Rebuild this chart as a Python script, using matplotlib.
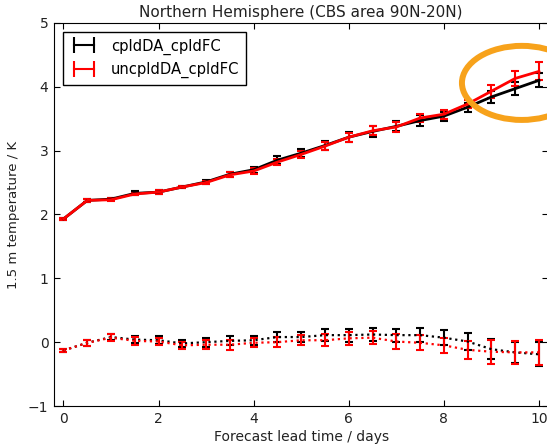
import numpy as np
import matplotlib
matplotlib.use("Agg")
import matplotlib.pyplot as plt
from matplotlib.lines import Line2D
from matplotlib.patches import Ellipse

# forecast lead times (days)
lead = [0.0, 0.5, 1.0, 1.5, 2.0, 2.5, 3.0, 3.5, 4.0, 4.5, 5.0,
        5.5, 6.0, 6.5, 7.0, 7.5, 8.0, 8.5, 9.0, 9.5, 10.0]

# RMS error, 1.5 m temperature (K)
rms_cpld = [1.93, 2.22, 2.24, 2.33, 2.35, 2.43, 2.51, 2.63, 2.70, 2.85, 2.96,
            3.08, 3.21, 3.30, 3.38, 3.47, 3.54, 3.68, 3.84, 3.97, 4.10]
rms_cpld_err = [0.02, 0.02, 0.02, 0.03, 0.03, 0.02, 0.03, 0.04, 0.05, 0.06, 0.06,
                0.07, 0.08, 0.08, 0.08, 0.08, 0.07, 0.07, 0.09, 0.10, 0.11]
rms_uncpld = [1.93, 2.22, 2.23, 2.32, 2.35, 2.43, 2.50, 2.62, 2.68, 2.82, 2.94,
              3.07, 3.21, 3.31, 3.37, 3.51, 3.57, 3.73, 3.93, 4.13, 4.24]
rms_uncpld_err = [0.02, 0.02, 0.02, 0.02, 0.03, 0.02, 0.03, 0.04, 0.04, 0.05, 0.05,
                  0.06, 0.07, 0.07, 0.08, 0.07, 0.07, 0.07, 0.10, 0.12, 0.14]

# mean error (bias), 1.5 m temperature (K)
bias_cpld = [-0.13, -0.01, 0.08, 0.04, 0.03, -0.02, 0.00, 0.02, 0.03, 0.08, 0.08,
             0.11, 0.11, 0.12, 0.11, 0.11, 0.07, 0.01, -0.11, -0.16, -0.19]
bias_cpld_err = [0.02, 0.05, 0.05, 0.06, 0.06, 0.06, 0.07, 0.07, 0.07, 0.08, 0.08,
                 0.09, 0.10, 0.10, 0.10, 0.11, 0.12, 0.13, 0.16, 0.17, 0.19]
bias_uncpld = [-0.13, -0.01, 0.07, 0.02, 0.01, -0.05, -0.04, -0.04, -0.01, 0.00, 0.03,
               0.03, 0.06, 0.07, 0.01, -0.01, -0.05, -0.12, -0.15, -0.16, -0.16]
bias_uncpld_err = [0.02, 0.05, 0.05, 0.06, 0.06, 0.06, 0.07, 0.08, 0.07, 0.08, 0.08,
                   0.09, 0.10, 0.10, 0.12, 0.12, 0.12, 0.14, 0.19, 0.18, 0.20]

labels = ["cpldDA_cpldFC", "uncpldDA_cpldFC"]
colors = ["black", "red"]

fig = plt.figure(figsize=(5.47, 4.45), dpi=100)
ax = fig.add_axes([0.0987, 0.0876, 0.904, 0.861])

eb = dict(elinewidth=1.5, capsize=2.6, capthick=1.5)
for rms, rerr, bias, berr, c in [(rms_cpld, rms_cpld_err, bias_cpld, bias_cpld_err, colors[0]),
                                 (rms_uncpld, rms_uncpld_err, bias_uncpld, bias_uncpld_err, colors[1])]:
    ax.errorbar(lead, rms, yerr=rerr, color=c, lw=2, **eb)
    ax.errorbar(lead, bias, yerr=berr, color=c, lw=1.6, ls=":", **eb)

ax.set_xlim(-0.2, 10.2)
ax.set_ylim(-1, 5)
ax.set_xticks([0, 2, 4, 6, 8, 10])
ax.set_yticks([-1, 0, 1, 2, 3, 4, 5])
ax.tick_params(direction="in", top=True, right=True, length=4, labelsize=10,
               labelcolor="#222222", pad=4)

ax.set_title("Northern Hemisphere (CBS area 90N-20N)", fontsize=11,
             color="#222222", pad=4)
ax.set_xlabel("Forecast lead time / days", fontsize=10, color="#222222", labelpad=3)
ax.set_ylabel("1.5 m temperature / K", fontsize=9.5, color="#222222", labelpad=6)

handles = [Line2D([], [], color=c, lw=1.5, marker="|", markersize=11,
                  markeredgewidth=1.5) for c in colors]
leg = ax.legend(handles, labels, loc="upper left", numpoints=2, fontsize=10.6,
                fancybox=False, framealpha=1, edgecolor="black",
                borderaxespad=0.6, handlelength=2.0, handletextpad=0.8,
                borderpad=0.45, labelspacing=0.5)
leg.get_frame().set_linewidth(1.0)

# highlight the end of the forecast range
ax.add_patch(Ellipse((9.64, 4.06), 2.52, 1.16, fill=False, ec="#f7a21b",
                     lw=4.3, clip_on=False, zorder=5))

fig.savefig("out.png", dpi=100)
